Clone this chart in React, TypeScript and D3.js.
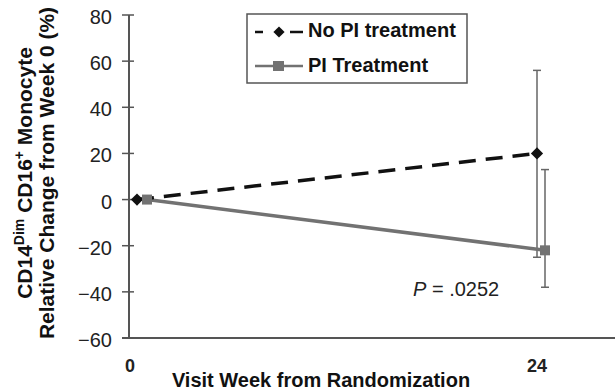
import React, { useEffect, useRef } from 'react';
import * as d3 from 'd3';

const weeks = [0, 24];
const seriesNames = ['No PI treatment', 'PI Treatment'];
const noPiValues = [0, 20];
const noPiLower = [0, -25];
const noPiUpper = [0, 56];
const piValues = [0, -22];
const piLower = [0, -38];
const piUpper = [0, 13];
const yTicks = [-60, -40, -20, 0, 20, 40, 60, 80];

const W = 615;
const H = 392;

const App = () => {
    const svgRef = useRef<SVGSVGElement>(null);

    useEffect(() => {
        const svg = d3.select(svgRef.current);
        svg.selectAll('*').remove();
        const font = 'Arial, "Liberation Sans", sans-serif';
        const axisColor = '#555';

        const x = d3.scaleLinear().domain([0, 24]).range([137, 537]);
        const y = d3.scaleLinear().domain([-60, 80]).range([338, 15]);
        const x0 = 129;

        // axes
        svg.append('line')
            .attr('x1', x0).attr('x2', x0)
            .attr('y1', y(80)).attr('y2', y(-60))
            .attr('stroke', axisColor).attr('stroke-width', 2);
        svg.append('line')
            .attr('x1', x0 - 7).attr('x2', W)
            .attr('y1', y(-60)).attr('y2', y(-60))
            .attr('stroke', axisColor).attr('stroke-width', 2);

        svg.selectAll('.ytick')
            .data(yTicks)
            .enter()
            .append('line')
            .attr('x1', x0 - 7).attr('x2', x0 + 5)
            .attr('y1', (d) => y(d)).attr('y2', (d) => y(d))
            .attr('stroke', axisColor).attr('stroke-width', 1.5);

        svg.selectAll('.ylab')
            .data(yTicks)
            .enter()
            .append('text')
            .attr('x', 112)
            .attr('y', (d) => y(d) + 9)
            .attr('text-anchor', 'end')
            .style('font-family', font)
            .style('font-size', '20px')
            .attr('fill', '#222')
            .text((d) => (d < 0 ? '\u2212' + Math.abs(d) : String(d)));

        svg.selectAll('.xlab')
            .data(weeks)
            .enter()
            .append('text')
            .attr('x', (d) => (d === 0 ? x(d) - 7 : x(d)))
            .attr('y', 372)
            .attr('text-anchor', 'middle')
            .style('font-family', font)
            .style('font-size', '18px')
            .style('font-weight', 'bold')
            .attr('fill', '#222')
            .text((d) => d);

        // error bars
        const errBar = (xp: number, lo: number, hi: number, color: string) => {
            svg.append('line')
                .attr('x1', xp).attr('x2', xp)
                .attr('y1', y(lo)).attr('y2', y(hi))
                .attr('stroke', color).attr('stroke-width', 1.5);
            [lo, hi].forEach((v) => {
                svg.append('line')
                    .attr('x1', xp - 4).attr('x2', xp + 4)
                    .attr('y1', y(v)).attr('y2', y(v))
                    .attr('stroke', color).attr('stroke-width', 1.5);
            });
        };
        errBar(x(24), noPiLower[1], noPiUpper[1], '#666');
        errBar(x(24) + 8, piLower[1], piUpper[1], '#666');

        const lineGen = d3.line<number>()
            .x((_, i) => x(weeks[i]))
            .y((d) => y(d));
        const lineGenPi = d3.line<number>()
            .x((_, i) => x(weeks[i]) + (i === 0 ? 10 : 8))
            .y((d) => y(d));

        svg.append('path')
            .datum(piValues)
            .attr('d', lineGenPi)
            .attr('fill', 'none')
            .attr('stroke', '#727272')
            .attr('stroke-width', 3.5);

        svg.append('path')
            .datum(noPiValues)
            .attr('d', lineGen)
            .attr('fill', 'none')
            .attr('stroke', '#111')
            .attr('stroke-width', 3.5)
            .attr('stroke-dasharray', '17,10');

        const diamond = d3.symbol().type(d3.symbolDiamond2).size(95);
        svg.selectAll('.dia')
            .data(noPiValues)
            .enter()
            .append('path')
            .attr('d', diamond)
            .attr('transform', (d, i) => `translate(${x(weeks[i])},${y(d)})`)
            .attr('fill', '#111');

        svg.selectAll('.sq')
            .data(piValues)
            .enter()
            .append('rect')
            .attr('x', (d, i) => x(weeks[i]) + (i === 0 ? 10 : 8) - 5)
            .attr('y', (d) => y(d) - 5)
            .attr('width', 10)
            .attr('height', 10)
            .attr('fill', '#727272');

        // legend
        svg.append('rect')
            .attr('x', 247).attr('y', 14)
            .attr('width', 220).attr('height', 69)
            .attr('fill', 'white')
            .attr('stroke', '#555').attr('stroke-width', 1.5);
        svg.append('line')
            .attr('x1', 255).attr('x2', 303)
            .attr('y1', 32).attr('y2', 32)
            .attr('stroke', '#111').attr('stroke-width', 2.5)
            .attr('stroke-dasharray', '8,27,13');
        svg.append('path')
            .attr('d', d3.symbol().type(d3.symbolDiamond2).size(80))
            .attr('transform', 'translate(279,32)')
            .attr('fill', '#111');
        svg.append('line')
            .attr('x1', 255).attr('x2', 303)
            .attr('y1', 66).attr('y2', 66)
            .attr('stroke', '#727272').attr('stroke-width', 2.5);
        svg.append('rect')
            .attr('x', 273).attr('y', 61).attr('width', 11).attr('height', 10)
            .attr('fill', '#727272');
        seriesNames.forEach((name, i) => {
            svg.append('text')
                .attr('x', 308)
                .attr('y', 37 + i * 35)
                .style('font-family', font)
                .style('font-size', '20px')
                .style('font-weight', 'bold')
                .attr('fill', '#111')
                .text(name);
        });

        // p value
        const pt = svg.append('text')
            .attr('x', 413)
            .attr('y', 296)
            .style('font-family', font)
            .style('font-size', '20px')
            .attr('fill', '#222');
        pt.append('tspan').style('font-style', 'italic').text('P');
        pt.append('tspan').text(' = .0252');

        // x title
        svg.append('text')
            .attr('x', 321)
            .attr('y', 387)
            .attr('text-anchor', 'middle')
            .style('font-family', font)
            .style('font-size', '20px')
            .style('font-weight', 'bold')
            .attr('fill', '#111')
            .text('Visit Week from Randomization');

        // y title
        const yt = svg.append('g').attr('transform', 'translate(0,173) rotate(-90)');
        const l1 = yt.append('text')
            .attr('x', 0).attr('y', 32)
            .attr('text-anchor', 'middle')
            .style('font-family', font)
            .style('font-size', '21px')
            .style('font-weight', 'bold')
            .attr('fill', '#111');
        l1.append('tspan').text('CD14');
        l1.append('tspan').attr('dy', -8).style('font-size', '14px').text('Dim');
        l1.append('tspan').attr('dy', 8).text(' CD16');
        l1.append('tspan').attr('dy', -8).style('font-size', '14px').text('+');
        l1.append('tspan').attr('dy', 8).text(' Monocyte');
        yt.append('text')
            .attr('x', 0).attr('y', 54)
            .attr('text-anchor', 'middle')
            .style('font-family', font)
            .style('font-size', '21px')
            .style('font-weight', 'bold')
            .attr('fill', '#111')
            .text('Relative Change from Week 0 (%)');
    }, []);

    return (
        <svg
            ref={svgRef}
            width={W}
            height={H}
            style={{ position: 'absolute', left: 0, top: 0, background: 'white' }}
        />
    );
};

export default App;
